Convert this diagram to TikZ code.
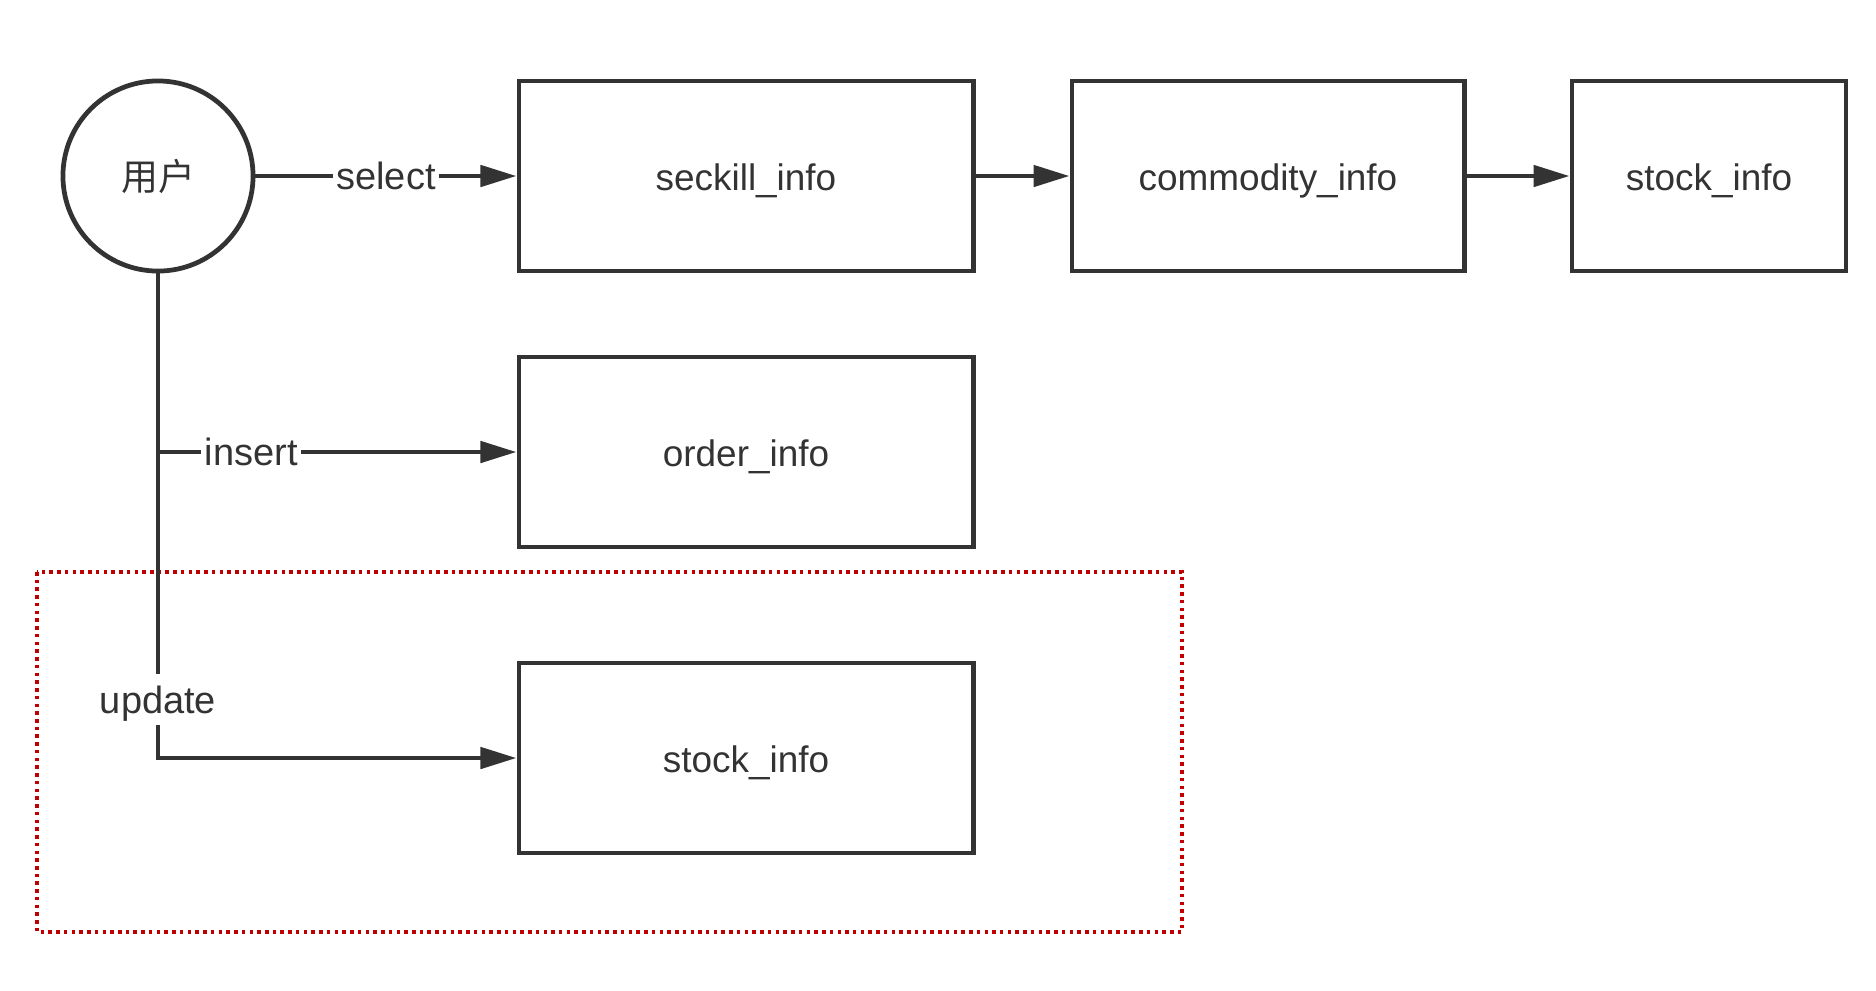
\documentclass[tikz,border=0pt]{standalone}
\usepackage{fontspec}
\setmainfont{Liberation Sans}
\newfontfamily\cjk{Noto Sans CJK SC}
\usetikzlibrary{arrows.meta}
\definecolor{ink}{HTML}{333333}
\definecolor{frame}{HTML}{C00000}

\begin{document}
\begin{tikzpicture}[x=0.01cm, y=-0.01cm, >={Triangle[length=3.6mm, width=2.1mm]},
  every table/.style={draw=ink, line width=1.35pt, minimum height=1.9cm,
    text=ink, text height=8.5pt, text depth=0pt, font=\fontsize{10.5}{12}\selectfont},
  every user/.style={draw=ink, line width=1.35pt, circle, minimum size=1.9cm,
    text=ink, font=\cjk\fontsize{10.5}{12}\selectfont},
  link/.style={draw=ink, line width=1.35pt},
  label/.style={fill=white, inner sep=1pt, text=ink, text height=10pt, text depth=2.5pt,
    font=\fontsize{10.8}{12}\selectfont}]

\useasboundingbox (0,0) rectangle (1876,990);

% the part in question
\draw [frame, line width=1pt, dash pattern=on 1pt off 1.2pt] (37,572) rectangle (1182,932);

\node [every user/.try] (user) at (158,176) {用户};

\foreach \t/\x/\w [count=\i] in {seckill/746/4.54, commodity/1268/3.92, stock/1709/2.74}
  \node [every table/.try, minimum width=\w cm] (top-\i) at (\x,176) {\t\_info};

\node [every table/.try, minimum width=4.54cm] (order) at (746,452) {order\_info};
\node [every table/.try, minimum width=4.54cm] (stock-upd) at (746,758) {stock\_info};

\draw [link, ->] (user) -- node [label] {select} (top-1);

\foreach \i [evaluate=\i as \j using int(\i+1)] in {1,2}
  \draw [link, ->] (top-\i) -- (top-\j);

\draw [link, ->] (user.south) |- node [label, pos=0.44] {update} (stock-upd.west);

\draw [link, ->] (user.south |- order.west) -- node [label, pos=0.26] {insert} (order.west);

\end{tikzpicture}
\end{document}
